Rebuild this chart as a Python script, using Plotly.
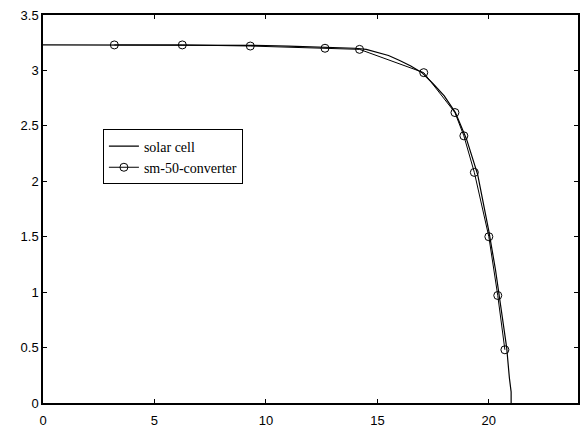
import plotly.graph_objects as go

# solar cell I-V curve
cell_v = [0, 2, 4, 6, 8, 10, 11, 12, 13, 14, 14.5, 15, 15.5, 16, 16.5, 17, 17.5,
          18, 18.5, 19, 19.5, 20, 20.3, 20.6, 20.8, 20.92, 21.0, 21.0]
cell_i = [3.23, 3.23, 3.23, 3.23, 3.23, 3.225, 3.22, 3.215, 3.21, 3.20, 3.19, 3.165,
          3.135, 3.09, 3.04, 2.98, 2.88, 2.77, 2.62, 2.38, 2.06, 1.55, 1.20, 0.78,
          0.50, 0.23, 0.10, 0.0]

# sm-50 converter measured points
conv_v = [3.2, 6.25, 9.3, 12.65, 14.2, 17.08, 18.48, 18.88, 19.35, 20.0, 20.4, 20.72]
conv_i = [3.23, 3.23, 3.22, 3.20, 3.19, 2.98, 2.62, 2.41, 2.08, 1.50, 0.97, 0.48]

x_ticks = [0, 5, 10, 15, 20]
y_ticks = [0, 0.5, 1, 1.5, 2, 2.5, 3, 3.5]

fig = go.Figure()
fig.add_trace(go.Scatter(x=cell_v, y=cell_i, mode="lines", name="solar cell",
                         line=dict(color="black", width=1.2)))
fig.add_trace(go.Scatter(x=conv_v, y=conv_i, mode="lines+markers", name="sm-50-converter",
                         line=dict(color="black", width=1),
                         marker=dict(symbol="circle-open", size=8, color="black",
                                     line=dict(width=1, color="black"))))

axis_common = dict(showline=True, linecolor="black", linewidth=1.5, mirror="allticks",
                   ticks="inside", ticklen=4, tickcolor="black", showgrid=False,
                   zeroline=False, automargin=False,
                   tickfont=dict(family="Liberation Sans", size=13, color="black"))

fig.update_layout(
    width=582, height=427,
    margin=dict(l=43, r=4, t=15, b=24),
    paper_bgcolor="white", plot_bgcolor="white",
    xaxis=dict(range=[0, 24], tickvals=x_ticks, ticklabelstandoff=5, **axis_common),
    yaxis=dict(range=[0, 3.5], tickvals=y_ticks, **axis_common),
    legend=dict(x=0.112, y=0.705, xanchor="left", yanchor="top",
                bordercolor="black", borderwidth=1, bgcolor="white",
                itemwidth=30, tracegroupgap=0,
                font=dict(family="Liberation Serif", size=14, color="black")),
)

fig.write_html("out.html", config={"displayModeBar": False},
               post_script="document.body.style.margin='0';document.body.style.overflow='hidden';")
